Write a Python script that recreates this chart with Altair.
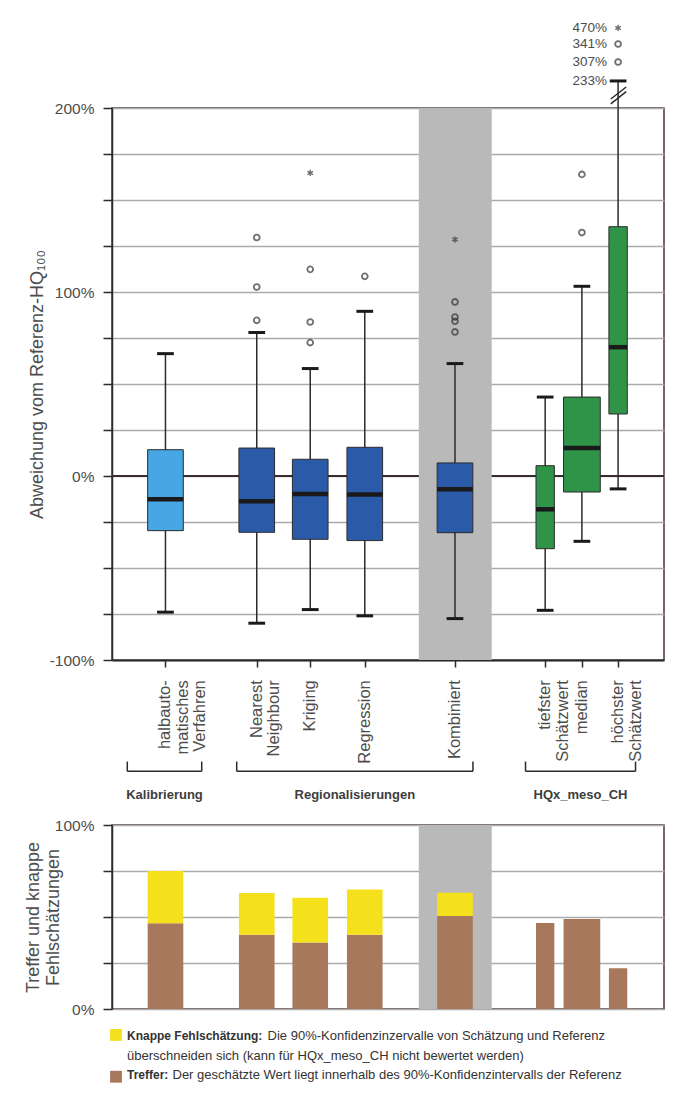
import pandas as pd
import altair as alt

# Kategorien und Gruppen
kategorien = ["halbauto-\nmatisches\nVerfahren", "Nearest\nNeighbour", "Kriging", "Regression",
              "Kombiniert", "tiefster\nSchätzwert", "median", "höchster\nSchätzwert"]
gruppe = ["kal", "reg", "reg", "reg", "reg", "meso", "meso", "meso"]

# Boxplots: Abweichung vom Referenz-HQ100 in %
whisker_lo = [-74, -80, -72.6, -76, -77.5, -73, -35.5, -7]
q1 = [-29.7, -30.6, -34.4, -35.1, -30.8, -39.5, -8.7, 33.7]
median = [-12.7, -13.7, -9.8, -10.1, -7.2, -18.1, 15.2, 70]
q3 = [14.3, 15.2, 9.1, 15.6, 7.1, 5.6, 42.9, 135.5]
whisker_hi = [66.5, 78, 58.4, 89.5, 61.1, 42.9, 103.1, 233]

# Ausreisser (o) und Extremwerte (*)
ausreisser_kat = [1, 1, 1, 2, 2, 2, 3, 4, 4, 4, 4, 6, 6, 7, 7]
ausreisser_wert = [129.6, 102.7, 84.6, 112.3, 83.7, 72.5, 108.5, 94.6, 86.4, 84.1, 78.3,
                   163.9, 132.3, 307, 341]
extrem_kat = [2, 4, 7]
extrem_wert = [164.7, 128.5, 470]

# Treffer und knappe Fehlschaetzungen in %
treffer = [46.6, 40.4, 36.2, 40.4, 50.5, 46.7, 48.9, 22.1]
knappe = [28.4, 22.6, 24.3, 24.5, 12.7, 0, 0, 0]

gruppen_titel = ["Kalibrierung", "Regionalisierungen", "HQx_meso_CH"]

# Layout (x-Einheiten, Achsenbruch oberhalb 200 %)
X_MAX = 10.22
pos = [0.99, 2.68, 3.67, 4.68, 6.35, 8.02, 8.70, 9.37]
breite = [0.66, 0.66, 0.66, 0.66, 0.66, 0.34, 0.68, 0.34]
band = [5.68, 7.03]
klammer_von = [0.283, 2.309, 7.656]
klammer_bis = [1.661, 6.683, 9.693]
bruch_wert = [233, 307, 341, 470]
bruch_anzeige = [214.7, 225.0, 234.8, 243.5]

TXT = "#4d4d4d"
DARK = "#2b2b2b"
farben = alt.Scale(domain=["kal", "reg", "meso", "Knappe", "Treffer"],
                   range=["#46a7e4", "#2b5ba8", "#2f9447", "#f5e11b", "#a8785c"])


def anzeige(v):
    return bruch_anzeige[bruch_wert.index(v)] if v > 200 else v


boxes = pd.DataFrame({"kat": kategorien, "gruppe": gruppe, "pos": pos, "w": breite,
                      "lo": whisker_lo, "q1": q1, "med": median, "q3": q3,
                      "hi": [anzeige(v) for v in whisker_hi]})
boxes["x1"] = boxes.pos - boxes.w / 2
boxes["x2"] = boxes.pos + boxes.w / 2
boxes["c1"] = boxes.pos - 0.155
boxes["c2"] = boxes.pos + 0.155

caps = pd.concat([boxes[["c1", "c2", "lo"]].rename(columns={"lo": "v"}),
                  boxes[["c1", "c2", "hi"]].rename(columns={"hi": "v"})])

punkte = pd.DataFrame({"pos": [pos[k] for k in ausreisser_kat],
                       "v": [anzeige(v) for v in ausreisser_wert]})
sterne = pd.DataFrame({"pos": [pos[k] for k in extrem_kat],
                       "v": [anzeige(v) for v in extrem_wert]})
bruch_labels = pd.DataFrame({"pos": pos[7], "v": bruch_anzeige,
                             "t": [f"{v}%" for v in bruch_wert]})
bruch = pd.DataFrame({"x1": [pos[7] - 0.135] * 2, "x2": [pos[7] + 0.15] * 2,
                      "y1": [202.2, 204.9], "y2": [208.9, 211.4]})

klammern = pd.DataFrame({"von": klammer_von, "bis": klammer_bis, "t": gruppen_titel})
klammern["mitte"] = (klammern.von + klammern.bis) / 2
klammer_beine = pd.DataFrame({"x": klammer_von + klammer_bis})

xs = alt.Scale(domain=[0, X_MAX], nice=False, zero=False)
xa = alt.Axis(values=pos, labels=False, tickSize=7, tickColor=DARK, tickWidth=1.5,
              domainColor=DARK, domainWidth=2, grid=False, title=None)
ys = alt.Scale(domain=[-100, 200], nice=False)
ya = alt.Axis(values=list(range(-100, 201, 25)),
              labelExpr="datum.value % 100 === 0 ? datum.value + '%' : ''",
              grid=True, gridColor="#ababab", gridWidth=1.5,
              tickColor=DARK, tickSize=9, tickWidth=1.5, domainColor=DARK, domainWidth=1.5,
              labelFontSize=15.5, labelColor=TXT, labelPadding=9,
              title="Abweichung vom Referenz-HQ₁₀₀", titleFontSize=18, titleFontWeight="normal",
              titleColor=TXT, titlePadding=3)


def X(f):
    return alt.X(f, type="quantitative", scale=xs, axis=xa)


def Y(f):
    return alt.Y(f, type="quantitative", scale=ys, axis=ya)


null = alt.Chart(pd.DataFrame({"v": [0]})).mark_rule(color="#3a2c2c", strokeWidth=2).encode(
    y=Y("v"))
grau = alt.Chart(pd.DataFrame({"a": [band[0]], "b": [band[1]], "u": [-100], "o": [200]})).mark_rect(
    color="#b9b9b9").encode(x=X("a"), x2="b", y=Y("u"), y2="o")
whisker = alt.Chart(boxes).mark_rule(color=DARK, strokeWidth=1.5).encode(
    x=X("pos"), y=Y("lo"), y2="hi")
kasten = alt.Chart(boxes).mark_rect(stroke=DARK, strokeWidth=1).encode(
    x=X("x1"), x2="x2", y=Y("q1"), y2="q3",
    color=alt.Color("gruppe:N", scale=farben, legend=None))
med = alt.Chart(boxes).mark_rule(color="#1a1a1a", strokeWidth=4.5).encode(
    x=X("x1"), x2="x2", y=Y("med"))
kappen = alt.Chart(caps).mark_rule(color="#1a1a1a", strokeWidth=3).encode(
    x=X("c1"), x2="c2", y=Y("v"))
kreise = alt.Chart(punkte).mark_point(shape="circle", filled=False, size=34, strokeWidth=1.8,
                                      color="#333333").encode(x=X("pos"), y=Y("v"))
stern = alt.Chart(sterne).mark_point(
    shape="M0,-1L0,1M-0.866,-0.5L0.866,0.5M-0.866,0.5L0.866,-0.5",
    filled=False, size=40, strokeWidth=1.4, color="#333333").encode(x=X("pos"), y=Y("v"))
bruch_text = alt.Chart(bruch_labels).mark_text(align="right", baseline="middle", dx=-11,
                                              fontSize=13.5, color=TXT).encode(
    x=X("pos"), y=Y("v"), text="t")
bruch_striche = alt.Chart(bruch).mark_rule(color=DARK, strokeWidth=1.5).encode(
    x=X("x1"), x2="x2", y=Y("y1"), y2="y2")
x_labels = alt.Chart(boxes).mark_text(angle=270, align="right", baseline="middle", lineBreak="\n",
                                      lineHeight=17.5, fontSize=16.5, color=TXT).encode(
    x=X("pos"), y=alt.Y(datum=-111, scale=ys, axis=ya), text="kat")
klammer_quer = alt.Chart(klammern).mark_rule(color=DARK, strokeWidth=1.5).encode(
    x=X("von"), x2="bis", y=alt.Y(datum=-160.5, scale=ys, axis=ya))
klammer_hoch = alt.Chart(klammer_beine).mark_rule(color=DARK, strokeWidth=1.5).encode(
    x=X("x"), y=alt.Y(datum=-160.5, scale=ys, axis=ya), y2=alt.Y2(datum=-155.2))
gruppen = alt.Chart(klammern).mark_text(fontSize=13, fontWeight="bold", color="#3d3d3d",
                                        baseline="middle").encode(
    x=X("mitte"), y=alt.Y(datum=-173.5, scale=ys, axis=ya), text="t")

oben = alt.layer(null, grau, whisker, kasten, med, kappen, kreise, stern, bruch_text,
                 bruch_striche, x_labels, klammer_quer, klammer_hoch, gruppen).properties(
    width=552, height=552)

# unteres Diagramm
bars = pd.DataFrame({"pos": pos, "w": breite, "tr": treffer, "kn": knappe})
bars["x1"] = bars.pos - bars.w / 2
bars["x2"] = bars.pos + bars.w / 2
bars["top"] = bars.tr + bars.kn
stapel = pd.concat([
    pd.DataFrame({"x1": bars.x1, "x2": bars.x2, "u": 0, "o": bars.tr, "typ": "Treffer"}),
    pd.DataFrame({"x1": bars.x1, "x2": bars.x2, "u": bars.tr, "o": bars.top, "typ": "Knappe"})[bars.kn > 0],
])

ys2 = alt.Scale(domain=[0, 100], nice=False)
ya2 = alt.Axis(values=list(range(0, 101, 25)),
               labelExpr="datum.value % 100 === 0 ? datum.value + '%' : ''",
               grid=True, gridColor="#ababab", gridWidth=1.5,
               tickColor=DARK, tickSize=9, tickWidth=1.5, domainColor=DARK, domainWidth=1.5,
               labelFontSize=15.5, labelColor=TXT, labelPadding=9,
               title=["Treffer und knappe", "Fehlschätzungen"], titleFontSize=18,
               titleFontWeight="normal", titleColor=TXT, titlePadding=-8, titleLineHeight=20)
xb = alt.X("x1:Q", scale=xs, axis=None)


def Y2(f):
    return alt.Y(f, type="quantitative", scale=ys2, axis=ya2)


grau2 = alt.Chart(pd.DataFrame({"a": [band[0]], "b": [band[1]], "u": [0], "o": [100]})).mark_rect(
    color="#b9b9b9").encode(x=alt.X("a:Q", scale=xs, axis=None), x2="b", y=Y2("u"), y2="o")
balken = alt.Chart(stapel).mark_rect().encode(
    x=xb, x2="x2", y=Y2("u"), y2="o", color=alt.Color("typ:N", scale=farben, legend=None))

legende_sym = pd.DataFrame({"x": [0.074, 0.074], "y": [-14.1, -36.8], "typ": ["Knappe", "Treffer"]})
legende_fett = pd.DataFrame({"x": [0.278, 0.278], "y": [-14.7, -36.1],
                             "t": ["Knappe Fehlschätzung:", "Treffer:"]})
legende_text = pd.DataFrame({
    "x": [2.88, 0.278, 1.12], "y": [-14.7, -25.3, -36.1],
    "t": ["Die 90%-Konfidenzinzervalle von Schätzung und Referenz",
          "überschneiden sich (kann für HQx_meso_CH nicht bewertet werden)",
          "Der geschätzte Wert liegt innerhalb des 90%-Konfidenzintervalls der Referenz"]})
sym = alt.Chart(legende_sym).mark_square(size=140, opacity=1).encode(
    x=alt.X("x:Q", scale=xs, axis=None), y=Y2("y"),
    color=alt.Color("typ:N", scale=farben, legend=None))
fett = alt.Chart(legende_fett).mark_text(align="left", baseline="middle", fontSize=12,
                                         fontWeight="bold", color="#333333").encode(
    x=alt.X("x:Q", scale=xs, axis=None), y=Y2("y"), text="t")
normal = alt.Chart(legende_text).mark_text(align="left", baseline="middle", fontSize=13,
                                           color="#333333").encode(
    x=alt.X("x:Q", scale=xs, axis=None), y=Y2("y"), text="t")

unten = alt.layer(grau2, balken, sym, fett, normal).properties(width=552, height=184)

chart = alt.vconcat(oben, unten, spacing=14).properties(
    padding={"left": 15, "top": 12, "right": 0, "bottom": 0}
).configure(font="Liberation Sans").configure_view(stroke="#4a3434", strokeWidth=1.5)

chart.save("out.html", embed_options={"renderer": "svg", "actions": False})
